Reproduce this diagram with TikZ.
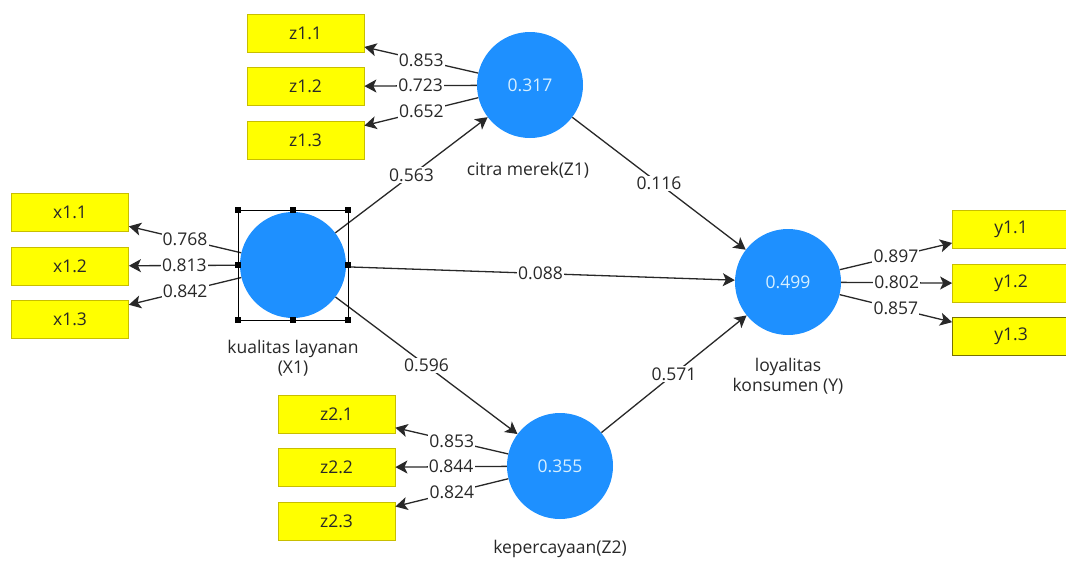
\documentclass[tikz,border=0pt]{standalone}
\usepackage{fontspec}
\setmainfont{Open Sans}
\usetikzlibrary{arrows.meta}
\definecolor{lvblue}{RGB}{30,144,255}
\definecolor{indyellow}{RGB}{255,255,0}
\definecolor{indborder}{RGB}{200,190,0}
\definecolor{txt}{RGB}{40,40,40}
\definecolor{lvtext}{RGB}{215,240,255}
\newcommand\dgmfont{\fontsize{17.5}{20}\selectfont}
\begin{document}
\begin{tikzpicture}[x=1pt,y=-1pt,
 indbox/.style={draw=indborder, line width=0.8pt, fill=indyellow, minimum width=117pt, minimum height=38pt, inner sep=0pt, text=txt, font=\dgmfont},
 latent/.style={circle, fill=lvblue, minimum size=106pt, inner sep=0pt, text=lvtext, font=\dgmfont},
 link/.style={draw=txt, line width=1.3pt, -{Stealth[length=12pt,width=13pt,inset=3pt]}},
 coef/.style={fill=white, inner sep=1.2pt, text=txt, font=\dgmfont},
 caption/.style={text=txt, font=\dgmfont, align=center},
 handle/.style={fill=black, minimum size=6pt, inner sep=0pt}
]
\useasboundingbox (0,0) rectangle (1066,560);
\fill[white] (0,0) rectangle (1066,560);
% latent variables
\node[latent] (Z1) at (530,85) {0.317};
\node[latent] (X1) at (293,265) {};
\node[latent] (Y) at (788,282) {0.499};
\node[latent] (Z2) at (560,466) {0.355};
% indicators
\node[indbox] (z11) at (305.5,33.5) {z1.1};
\node[indbox] (z12) at (305.5,86.5) {z1.2};
\node[indbox] (z13) at (305.5,140) {z1.3};
\node[indbox] (x11) at (70,212.5) {x1.1};
\node[indbox] (x12) at (70,266) {x1.2};
\node[indbox] (x13) at (70,319) {x1.3};
\node[indbox] (y11) at (1011,229) {y1.1};
\node[indbox] (y12) at (1011,283.5) {y1.2};
\node[indbox, draw=indborder!60!black] (y13) at (1011,336.5) {y1.3};
\node[indbox] (z21) at (336.5,414) {z2.1};
\node[indbox] (z22) at (336.5,467.5) {z2.2};
\node[indbox] (z23) at (336.5,521) {z2.3};
% captions
\node[caption] (capZ1) at (528,170) {citra merek(Z1)};
\node[caption] (capX1) at (293,358) {kualitas layanan\\(X1)};
\node[caption] (capY) at (788,376) {loyalitas\\konsumen (Y)};
\node[caption] (capZ2) at (560,549) {kepercayaan(Z2)};
% outer loadings
\draw[link] (Z1) -- node[coef]{0.853} (z11);
\draw[link] (Z1) -- node[coef]{0.723} (z12);
\draw[link] (Z1) -- node[coef]{0.652} (z13);
\draw[link] (X1) -- node[coef]{0.768} (x11);
\draw[link] (X1) -- node[coef]{0.813} (x12);
\draw[link] (X1) -- node[coef]{0.842} (x13);
\draw[link] (Y) -- node[coef]{0.897} (y11);
\draw[link] (Y) -- node[coef]{0.802} (y12);
\draw[link] (Y) -- node[coef]{0.857} (y13);
\draw[link] (Z2) -- node[coef]{0.853} (z21);
\draw[link] (Z2) -- node[coef]{0.844} (z22);
\draw[link] (Z2) -- node[coef]{0.824} (z23);
% path coefficients
\draw[link] (X1) -- node[coef]{0.563} (Z1);
\draw[link] (Z1) -- node[coef]{0.116} (Y);
\draw[link] (X1) -- node[coef]{0.088} (Y);
\draw[link] (X1) -- node[coef]{0.596} (Z2);
\draw[link] (Z2) -- node[coef]{0.571} (Y);
% selection frame
\draw[black, line width=0.8pt] (238,210) rectangle (348,320);
\node[handle] (h1) at (238,210) {};
\node[handle] (h2) at (293,210) {};
\node[handle] (h3) at (348,210) {};
\node[handle] (h4) at (238,265) {};
\node[handle] (h5) at (348,265) {};
\node[handle] (h6) at (238,320) {};
\node[handle] (h7) at (293,320) {};
\node[handle] (h8) at (348,320) {};
\end{tikzpicture}
\end{document}
